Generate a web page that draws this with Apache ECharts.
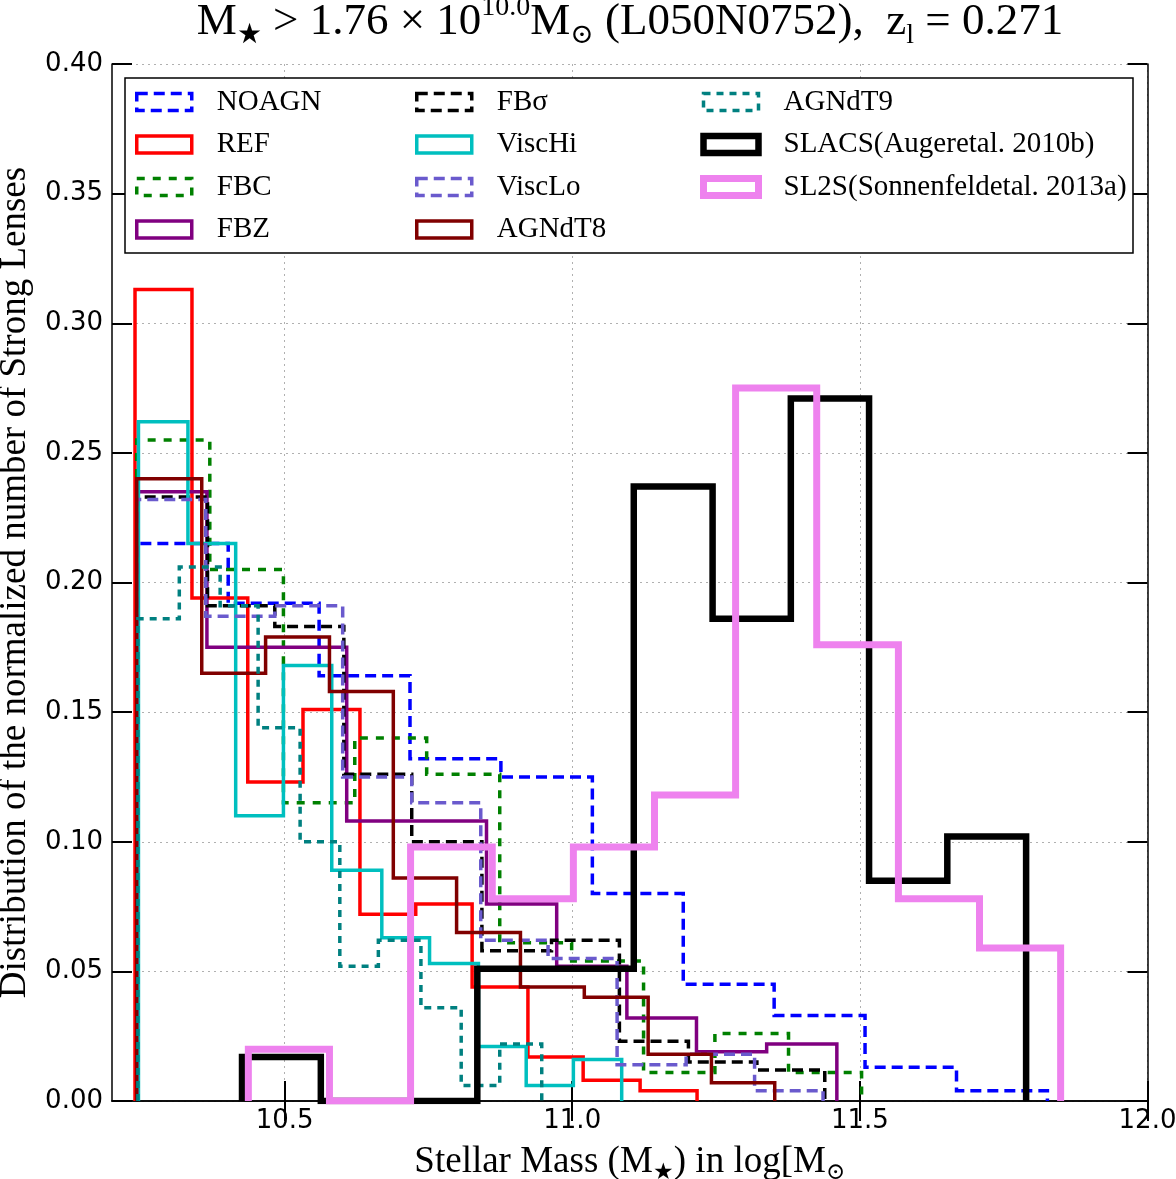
<!DOCTYPE html>
<html><head><meta charset="utf-8">
<script src="https://cdn.jsdelivr.net/npm/echarts@6/dist/echarts.min.js"></script>
<style>html,body{margin:0;padding:0;background:#fff;overflow:hidden}#c{width:1176px;height:1179px}</style>
</head><body><div id="c"></div>
<script>
// ---- tick labels ----
const xTickValues = [10.5, 11.0, 11.5, 12.0];
const yMin = 0, yMax = 0.40, yStep = 0.05;

// ---- histogram bin edges (log M*) and normalized values ----
const NOAGN_edges = [10.243, 10.402, 10.560, 10.718, 10.876, 11.035, 11.193, 11.351, 11.509, 11.668, 11.826];
const NOAGN_vals  = [0.215, 0.192, 0.164, 0.132, 0.125, 0.080, 0.045, 0.033, 0.013, 0.004];

const REF_edges = [10.240, 10.339, 10.436, 10.532, 10.631, 10.728, 10.826, 10.923, 11.019, 11.118, 11.217];
const REF_vals  = [0.313, 0.194, 0.123, 0.151, 0.072, 0.076, 0.044, 0.017, 0.008, 0.004];

const FBC_edges = [10.243, 10.370, 10.498, 10.622, 10.747, 10.874, 10.999, 11.124, 11.248, 11.376, 11.503];
const FBC_vals  = [0.255, 0.205, 0.115, 0.140, 0.126, 0.061, 0.054, 0.011, 0.026, 0.011];

const FBZ_edges = [10.243, 10.365, 10.487, 10.608, 10.730, 10.851, 10.973, 11.095, 11.216, 11.338, 11.460];
const FBZ_vals  = [0.235, 0.175, 0.175, 0.108, 0.108, 0.076, 0.052, 0.032, 0.019, 0.022];

const FBsigma_edges = [10.243, 10.366, 10.483, 10.603, 10.721, 10.843, 10.964, 11.082, 11.202, 11.321, 11.439];
const FBsigma_vals  = [0.233, 0.191, 0.183, 0.126, 0.100, 0.058, 0.062, 0.023, 0.015, 0.012];

const ViscHi_edges = [10.246, 10.332, 10.415, 10.498, 10.582, 10.669, 10.752, 10.837, 10.920, 11.002, 11.086];
const ViscHi_vals  = [0.262, 0.215, 0.110, 0.168, 0.089, 0.063, 0.053, 0.021, 0.006, 0.016];

const ViscLo_edges = [10.243, 10.363, 10.483, 10.601, 10.721, 10.841, 10.958, 11.078, 11.198, 11.317, 11.436];
const ViscLo_vals  = [0.232, 0.187, 0.191, 0.125, 0.115, 0.062, 0.055, 0.014, 0.018, 0.004];

const AGNdT8_edges = [10.243, 10.356, 10.467, 10.578, 10.689, 10.799, 10.910, 11.021, 11.132, 11.242, 11.352];
const AGNdT8_vals  = [0.240, 0.165, 0.179, 0.158, 0.086, 0.065, 0.044, 0.040, 0.018, 0.007];

const AGNdT9_edges = [10.245, 10.317, 10.388, 10.454, 10.527, 10.596, 10.663, 10.737, 10.807, 10.874, 10.947];
const AGNdT9_vals  = [0.186, 0.206, 0.191, 0.144, 0.100, 0.052, 0.062, 0.036, 0.006, 0.022];

const SLACS_edges = [10.426, 10.563, 10.699, 10.835, 10.971, 11.107, 11.244, 11.380, 11.516, 11.652, 11.789];
const SLACS_vals  = [0.017, 0, 0, 0.051, 0.051, 0.237, 0.186, 0.271, 0.085, 0.102];

const SL2S_edges = [10.437, 10.578, 10.719, 10.861, 11.002, 11.143, 11.284, 11.425, 11.567, 11.708, 11.849];
const SL2S_vals  = [0.020, 0, 0.098, 0.078, 0.098, 0.118, 0.275, 0.176, 0.078, 0.059];

// ---- styles ----
const SERIF = '"Liberation Serif","DejaVu Serif",serif';
const SANS = '"DejaVu Sans",sans-serif';
const D = [11, 6];
const seriesDefs = [
  {name:'NOAGN', edges:NOAGN_edges, vals:NOAGN_vals, color:'#0000ff', lw:3.5, dash:D},
  {name:'REF', edges:REF_edges, vals:REF_vals, color:'#ff0000', lw:3.5},
  {name:'FBC', edges:FBC_edges, vals:FBC_vals, color:'#008000', lw:3.5, dash:[8,8]},
  {name:'FBZ', edges:FBZ_edges, vals:FBZ_vals, color:'#800080', lw:3.5},
  {name:'FBσ', edges:FBsigma_edges, vals:FBsigma_vals, color:'#000000', lw:3.5, dash:D},
  {name:'ViscHi', edges:ViscHi_edges, vals:ViscHi_vals, color:'#00bfbf', lw:3.5},
  {name:'ViscLo', edges:ViscLo_edges, vals:ViscLo_vals, color:'#6a5acd', lw:3.5, dash:D},
  {name:'AGNdT8', edges:AGNdT8_edges, vals:AGNdT8_vals, color:'#800000', lw:3.5},
  {name:'AGNdT9', edges:AGNdT9_edges, vals:AGNdT9_vals, color:'#008080', lw:3.5, dash:[7,6]},
  {name:'SLACS(Augeretal. 2010b)', edges:SLACS_edges, vals:SLACS_vals, color:'#000000', lw:6.5},
  {name:'SL2S(Sonnenfeldetal. 2013a)', edges:SL2S_edges, vals:SL2S_vals, color:'#ee82ee', lw:7}
];

function stepPoints(edges, vals) {
  const pts = [[edges[0], 0]];
  for (let i = 0; i < vals.length; i++) {
    pts.push([edges[i], vals[i]]);
    pts.push([edges[i + 1], vals[i]]);
  }
  pts.push([edges[edges.length - 1], 0]);
  return pts;
}

const series = seriesDefs.map(s => ({
  type: 'line', name: s.name, data: stepPoints(s.edges, s.vals),
  showSymbol: false, symbol: 'none', animation: false, clip: true,
  lineStyle: {color: s.color, width: s.lw, type: s.dash || 'solid', cap: 'butt', join: 'miter'},
  itemStyle: {color: s.color}
}));

function legendData(names) {
  return names.map(n => {
    const s = seriesDefs.find(d => d.name === n);
    return {name: n, icon: 'rect', itemStyle: {color: 'rgba(0,0,0,0)', borderColor: s.color, borderWidth: s.lw, borderType: s.dash || 'solid'}};
  });
}
const legendText = {fontFamily: SERIF, fontSize: 29, color: '#000', lineHeight: 30, padding: [0, 0, 0, 20]};
function mkLegend(left, names) {
  return {left: left, top: 87, orient: 'vertical', itemWidth: 55, itemHeight: 17, itemGap: 12.5,
    padding: 0, selectedMode: false, z: 10, data: legendData(names), textStyle: legendText};
}

const axisLineStyle = {color: '#000', width: 1.5};
const tickStyle = {color: '#000', width: 2};
const gridLine = {show: true, lineStyle: {color: '#b0b0b0', width: 1, type: [2, 4]}};

const chart = echarts.init(document.getElementById('c'), null, {renderer: 'canvas'});
chart.setOption({
  backgroundColor: '#fff',
  animation: false,
  title: {
    text: 'M{sub|★} > 1.76 × 10{sup|10.0}M{sub|⊙} (L050N0752),  z{sub|l} = 0.271',
    left: 630, top: -6, padding: 0, textAlign: 'center',
    textStyle: {fontFamily: SERIF, fontSize: 45, fontWeight: 'normal', color: '#000', lineHeight: 56,
      rich: {
        sub: {fontFamily: SERIF, fontSize: 28, verticalAlign: 'bottom', lineHeight: 28, color: '#000'},
        sup: {fontFamily: SERIF, fontSize: 28, verticalAlign: 'top', lineHeight: 28, color: '#000'}
      }}
  },
  grid: {left: 112, right: 28.5, top: 64, bottom: 78, containLabel: false, outerBoundsMode: 'none'},
  legend: [
    mkLegend(135, ['NOAGN', 'REF', 'FBC', 'FBZ']),
    mkLegend(415, ['FBσ', 'ViscHi', 'ViscLo', 'AGNdT8']),
    mkLegend(700, ['AGNdT9', 'SLACS(Augeretal. 2010b)', 'SL2S(Sonnenfeldetal. 2013a)'])
  ],
  xAxis: [{
    type: 'value', min: 10.2, max: 12.0, splitNumber: 4, position: 'bottom',
    name: 'Stellar Mass (M{sub|★}) in log[M{sub|⊙}', nameLocation: 'middle', nameGap: 36,
    nameTextStyle: {fontFamily: SERIF, fontSize: 37, color: '#000', lineHeight: 46,
      rich: {sub: {fontFamily: SERIF, fontSize: 23, verticalAlign: 'bottom', lineHeight: 26, color: '#000'}}},
    axisLine: {show: true, lineStyle: axisLineStyle},
    axisTick: {show: true, inside: true, length: 20, lineStyle: tickStyle, customValues: xTickValues},
    axisLabel: {show: true, customValues: xTickValues, margin: 7, fontFamily: SANS, fontSize: 26, color: '#000',
      formatter: v => v.toFixed(1)},
    splitLine: gridLine
  }, {
    type: 'value', min: 10.2, max: 12.0, splitNumber: 4, position: 'top',
    axisLine: {show: true, lineStyle: axisLineStyle},
    axisTick: {show: true, inside: true, length: 20, lineStyle: tickStyle, customValues: xTickValues},
    axisLabel: {show: false}, splitLine: {show: false}
  }],
  yAxis: [{
    type: 'value', min: yMin, max: yMax, interval: yStep, position: 'left',
    name: 'Distribution of the normalized number of Strong Lenses', nameLocation: 'middle', nameRotate: 90, nameGap: 74,
    nameTextStyle: {fontFamily: SERIF, fontSize: 37, color: '#000'},
    axisLine: {show: true, lineStyle: axisLineStyle},
    axisTick: {show: true, inside: true, length: 20, lineStyle: tickStyle},
    axisLabel: {show: true, margin: 9, fontFamily: SANS, fontSize: 26, color: '#000', formatter: v => v.toFixed(2)},
    splitLine: gridLine
  }, {
    type: 'value', min: yMin, max: yMax, interval: yStep, position: 'right',
    axisLine: {show: true, lineStyle: axisLineStyle},
    axisTick: {show: true, inside: true, length: 20, lineStyle: tickStyle},
    axisLabel: {show: false}, splitLine: {show: false}
  }],
  graphic: [{
    type: 'rect', z: 3, silent: true,
    shape: {x: 125, y: 78, width: 1008, height: 175},
    style: {fill: '#fff', stroke: '#000', lineWidth: 1.5}
  }],
  series: series
});
</script>
</body></html>
